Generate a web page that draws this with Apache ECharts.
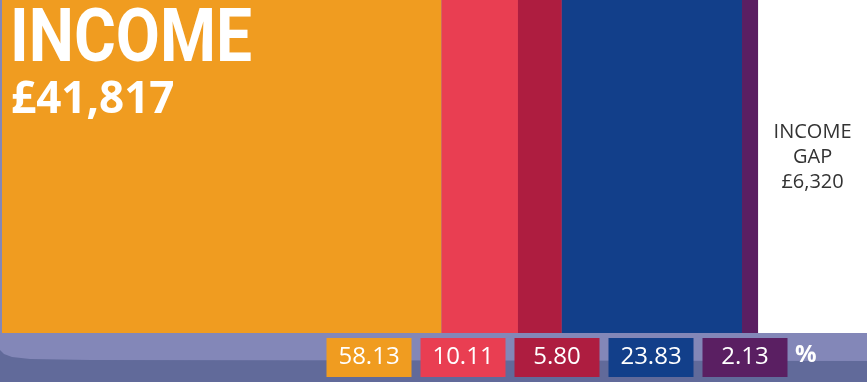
<!DOCTYPE html>
<html>
<head>
<meta charset="utf-8">
<script src="https://cdn.jsdelivr.net/npm/echarts@6/dist/echarts.min.js"></script>
<style>
html, body { margin: 0; padding: 0; }
#main { width: 867px; height: 382px; }
</style>
</head>
<body>
<div id="main"></div>
<script>
// income breakdown (percent of income)
var parts = ['A', 'B', 'C', 'D', 'E'];
var shares = [58.13, 10.11, 5.80, 23.83, 2.13];
var colors = ['#f09c20', '#e93e52', '#ae1d40', '#123f8a', '#5a1f62'];
var income = 41817;
var incomeGap = 6320;

var gapShare = incomeGap / income * 100;
var fmt = function(n) { return '£' + n.toLocaleString('en-GB'); };

var myChart = echarts.init(document.getElementById('main'));

var series = [];
for (var i = 0; i < parts.length; i++) {
	series.push({
		name: parts[i],
		type: 'bar',
		stack: 'total',
		barWidth: 333,
		xAxisIndex: 0,
		yAxisIndex: 0,
		itemStyle: { color: colors[i] },
		data: [shares[i]],
		silent: true
	});
}
// gap (runs off the right edge)
series.push({
	name: 'gap',
	type: 'bar',
	stack: 'total',
	barWidth: 333,
	itemStyle: { color: '#ffffff' },
	data: [gapShare],
	silent: true,
	label: {
		show: true,
		position: 'inside',
		offset: [0, -9],
		formatter: 'INCOME\nGAP\n' + fmt(incomeGap),
		fontFamily: 'Open Sans',
		fontSize: 20,
		lineHeight: 25,
		color: '#333333',
		align: 'center'
	}
});
// percentage boxes
series.push({
	name: 'pct',
	type: 'bar',
	xAxisIndex: 1,
	yAxisIndex: 1,
	barWidth: 85,
	silent: true,
	data: shares.map(function(v, i) {
		return { value: 1, itemStyle: { color: colors[i] } };
	}),
	label: {
		show: true,
		position: 'inside',
		formatter: function(p) { return shares[p.dataIndex].toFixed(2); },
		fontFamily: 'Open Sans',
		fontSize: 24,
		color: '#fff'
	}
});

var option = {
	backgroundColor: '#8387b8',
	animation: false,
	grid: [
		{ left: 2, right: 0, top: 0, height: 333 },
		{ left: 322, width: 470, top: 338, height: 39 }
	],
	xAxis: [
		{ type: 'value', min: 0, max: 114.4, show: false, gridIndex: 0 },
		{ type: 'category', data: parts, show: false, gridIndex: 1 }
	],
	yAxis: [
		{ type: 'category', data: ['income'], show: false, gridIndex: 0 },
		{ type: 'value', min: 0, max: 1, show: false, gridIndex: 1 }
	],
	graphic: [
		{
			type: 'polygon',
			z: -10,
			shape: { points: [[0, 350], [4, 354], [12, 357], [30, 359], [90, 360], [867, 361], [867, 382], [0, 382]] },
			style: { fill: '#616a9a' }
		},
		{
			type: 'text',
			x: 10,
			y: 42,
			scaleY: 1.16,
			z: 100,
			style: { text: 'INCOME', fill: '#fff', font: 'bold 64px Roboto', verticalAlign: 'middle' }
		},
		{
			type: 'text',
			x: 11,
			y: 100,
			z: 100,
			style: { text: fmt(income), fill: '#fff', font: 'bold 44px "Open Sans"', verticalAlign: 'middle' }
		},
		{
			type: 'text',
			left: 795,
			top: 343,
			style: { text: '%', fill: '#fff', font: 'bold 24px "Open Sans"' }
		}
	],
	series: series
};
myChart.setOption(option);
</script>
</body>
</html>
